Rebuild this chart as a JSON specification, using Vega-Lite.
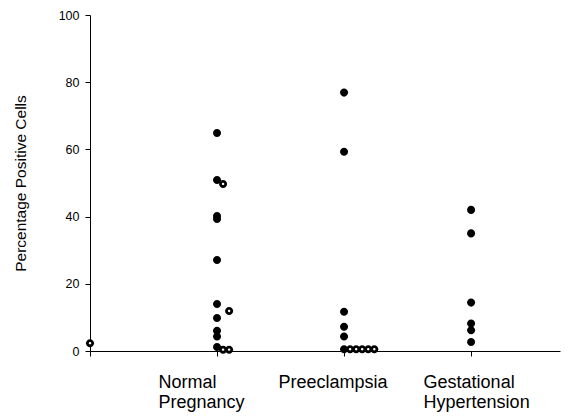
{
  "$schema": "https://vega.github.io/schema/vega-lite/v6.json",
  "width": 470,
  "height": 336,
  "autosize": {"type": "none"},
  "padding": {"left": 90, "top": 15, "right": 11, "bottom": 67},
  "background": "white",
  "config": {
    "view": {"stroke": null},
    "font": "Liberation Sans",
    "axis": {"grid": false, "domainColor": "#000000", "tickColor": "#000000", "labelColor": "#000000", "titleColor": "#000000", "labelFont": "Liberation Sans", "titleFont": "Liberation Sans"}
  },
  "data": {
    "values": [
      {"group": 0, "pct": 2.3, "slot": 0},
      {"group": 1, "pct": 64.9, "slot": 0},
      {"group": 1, "pct": 50.9, "slot": 0},
      {"group": 1, "pct": 49.7, "slot": 1},
      {"group": 1, "pct": 40.2, "slot": 0},
      {"group": 1, "pct": 39.3, "slot": 0},
      {"group": 1, "pct": 27.1, "slot": 0},
      {"group": 1, "pct": 14.0, "slot": 0},
      {"group": 1, "pct": 11.9, "slot": 2},
      {"group": 1, "pct": 9.8, "slot": 0},
      {"group": 1, "pct": 6.0, "slot": 0},
      {"group": 1, "pct": 4.3, "slot": 0},
      {"group": 1, "pct": 1.2, "slot": 0},
      {"group": 1, "pct": 0.4, "slot": 1},
      {"group": 1, "pct": 0.4, "slot": 2},
      {"group": 2, "pct": 76.9, "slot": 0},
      {"group": 2, "pct": 59.3, "slot": 0},
      {"group": 2, "pct": 11.7, "slot": 0},
      {"group": 2, "pct": 7.2, "slot": 0},
      {"group": 2, "pct": 4.3, "slot": 0},
      {"group": 2, "pct": 0.5, "slot": 0},
      {"group": 2, "pct": 0.5, "slot": 1},
      {"group": 2, "pct": 0.5, "slot": 2},
      {"group": 2, "pct": 0.5, "slot": 3},
      {"group": 2, "pct": 0.5, "slot": 4},
      {"group": 2, "pct": 0.5, "slot": 5},
      {"group": 3, "pct": 42.0, "slot": 0},
      {"group": 3, "pct": 35.0, "slot": 0},
      {"group": 3, "pct": 14.4, "slot": 0},
      {"group": 3, "pct": 8.2, "slot": 0},
      {"group": 3, "pct": 6.2, "slot": 0},
      {"group": 3, "pct": 2.7, "slot": 0}
    ]
  },
  "encoding": {
    "x": {
      "field": "group",
      "type": "quantitative",
      "scale": {"domain": [0, 3.7], "nice": false, "zero": false},
      "axis": {
        "title": null,
        "values": [0, 1, 2, 3],
        "tickSize": 5,
        "labelFontSize": 18,
        "labelLineHeight": 20,
        "labelAlign": "left",
        "labelBaseline": "top",
        "labelPadding": 17,
        "labelOffset": {"condition": [{"test": "datum.value == 3", "value": -48}, {"test": "datum.value == 2", "value": -66}], "value": -59},
        "labelExpr": "datum.value == 1 ? ['Normal', 'Pregnancy'] : datum.value == 2 ? 'Preeclampsia' : datum.value == 3 ? ['Gestational', 'Hypertension'] : ''",
        "labelOverlap": false,
        "labelFlush": false
      }
    },
    "y": {
      "field": "pct",
      "type": "quantitative",
      "scale": {"domain": [0, 100], "nice": false},
      "axis": {
        "title": "Percentage Positive Cells",
        "titleFontSize": 15.5,
        "titleFontWeight": "normal",
        "titlePadding": 30,
        "values": [0, 20, 40, 60, 80, 100],
        "tickSize": 5,
        "labelFontSize": 12.5,
        "labelPadding": 6
      }
    }
  },
  "layer": [
    {
      "mark": {"type": "point", "filled": true, "size": 65, "color": "#000000", "opacity": 1},
      "encoding": {
        "shape": {
          "field": "slot",
          "type": "nominal",
          "legend": null,
          "scale": {
            "domain": [0, 1, 2, 3, 4, 5],
            "range": [
              "M -1,0 A 1,1 0 1,0 1,0 A 1,1 0 1,0 -1,0 Z",
              "M 0.5,0 A 1,1 0 1,0 2.5,0 A 1,1 0 1,0 0.5,0 Z",
              "M 2,0 A 1,1 0 1,0 4,0 A 1,1 0 1,0 2,0 Z",
              "M 3.5,0 A 1,1 0 1,0 5.5,0 A 1,1 0 1,0 3.5,0 Z",
              "M 5,0 A 1,1 0 1,0 7,0 A 1,1 0 1,0 5,0 Z",
              "M 6.5,0 A 1,1 0 1,0 8.5,0 A 1,1 0 1,0 6.5,0 Z"
            ]
          }
        }
      }
    },
    {
      "transform": [{"filter": "datum.slot > 0 || datum.group == 0"}],
      "mark": {"type": "point", "filled": true, "size": 65, "color": "#ffffff", "opacity": 1},
      "encoding": {
        "shape": {
          "field": "slot",
          "type": "nominal",
          "legend": null,
          "scale": {
            "domain": [0, 1, 2, 3, 4, 5],
            "range": [
              "M -0.3,0 A 0.3,0.3 0 1,0 0.3,0 A 0.3,0.3 0 1,0 -0.3,0 Z",
              "M 1.2,0 A 0.3,0.3 0 1,0 1.8,0 A 0.3,0.3 0 1,0 1.2,0 Z",
              "M 2.7,0 A 0.3,0.3 0 1,0 3.3,0 A 0.3,0.3 0 1,0 2.7,0 Z",
              "M 4.2,0 A 0.3,0.3 0 1,0 4.8,0 A 0.3,0.3 0 1,0 4.2,0 Z",
              "M 5.7,0 A 0.3,0.3 0 1,0 6.3,0 A 0.3,0.3 0 1,0 5.7,0 Z",
              "M 7.2,0 A 0.3,0.3 0 1,0 7.8,0 A 0.3,0.3 0 1,0 7.2,0 Z"
            ]
          }
        }
      }
    }
  ],
  "resolve": {"scale": {"shape": "independent"}}
}
